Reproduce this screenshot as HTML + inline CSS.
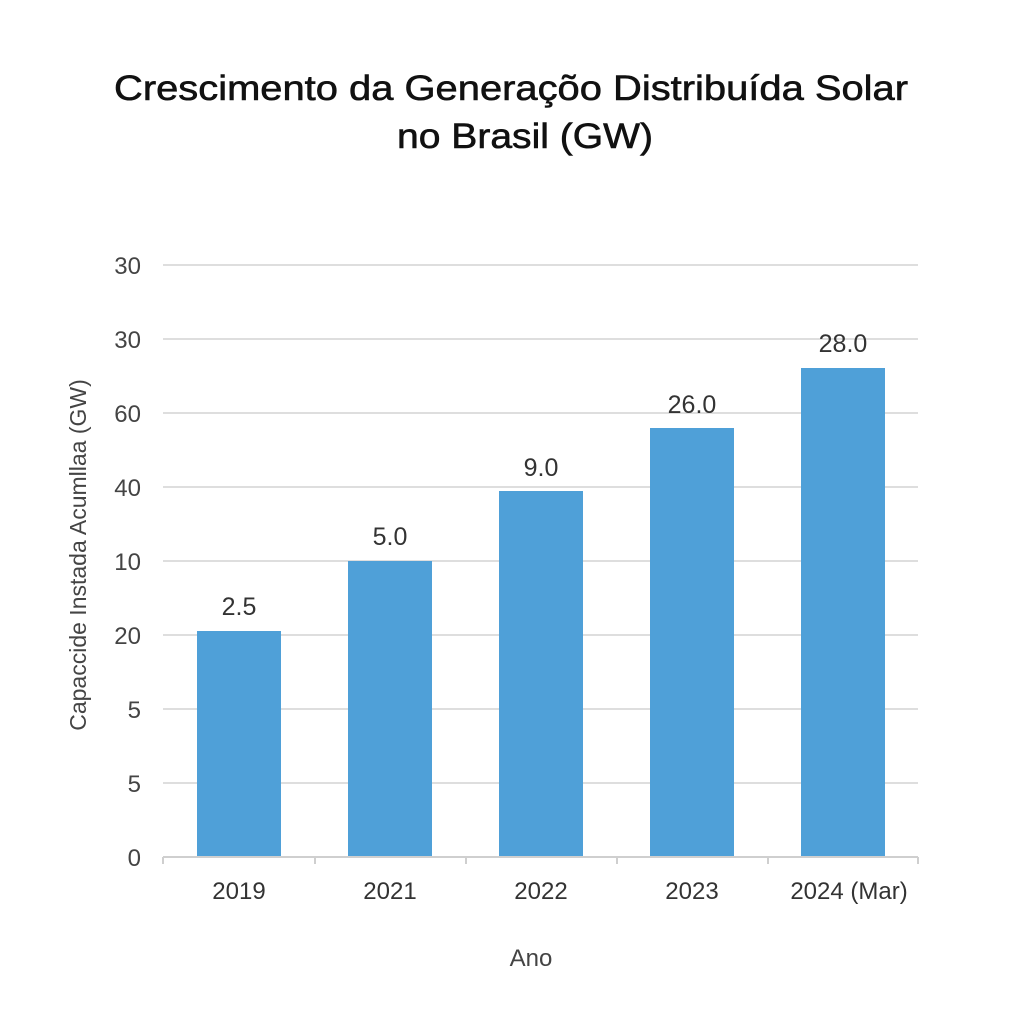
<!DOCTYPE html>
<html><head><meta charset="utf-8"><style>
html,body{margin:0;padding:0;background:#fff;}
svg{display:block;font-family:"Liberation Sans",sans-serif;}
</style></head><body>
<svg width="1024" height="1024" viewBox="0 0 1024 1024">
<rect width="1024" height="1024" fill="#fff"/>
<text x="511" y="100" text-anchor="middle" font-size="35" fill="#111" stroke="#111" stroke-width="0.6" textLength="794" lengthAdjust="spacingAndGlyphs">Crescimento da Generaçõo Distribuída Solar</text>
<text x="525" y="148" text-anchor="middle" font-size="35" fill="#111" stroke="#111" stroke-width="0.6" textLength="256" lengthAdjust="spacingAndGlyphs">no Brasil (GW)</text>
<g stroke="#dedede" stroke-width="2">
<line x1="163" y1="265" x2="918" y2="265"/>
<line x1="163" y1="339" x2="918" y2="339"/>
<line x1="163" y1="413" x2="918" y2="413"/>
<line x1="163" y1="487" x2="918" y2="487"/>
<line x1="163" y1="561" x2="918" y2="561"/>
<line x1="163" y1="635" x2="918" y2="635"/>
<line x1="163" y1="709" x2="918" y2="709"/>
<line x1="163" y1="783" x2="918" y2="783"/>
</g>
<g fill="#4fa0d8">
<rect x="197" y="631" width="84" height="225"/>
<rect x="348" y="561" width="84" height="295"/>
<rect x="499" y="491" width="84" height="365"/>
<rect x="650" y="428" width="84" height="428"/>
<rect x="801" y="368" width="84" height="488"/>
</g>
<g stroke="#cfcfcf" stroke-width="2">
<line x1="163" y1="857" x2="918" y2="857"/>
<line x1="163" y1="857" x2="163" y2="864"/>
<line x1="315" y1="857" x2="315" y2="864"/>
<line x1="466" y1="857" x2="466" y2="864"/>
<line x1="617" y1="857" x2="617" y2="864"/>
<line x1="768" y1="857" x2="768" y2="864"/>
<line x1="918" y1="857" x2="918" y2="864"/>
</g>
<g font-size="24" fill="#444" text-anchor="end">
<text x="141" y="274">30</text>
<text x="141" y="348">30</text>
<text x="141" y="422">60</text>
<text x="141" y="496">40</text>
<text x="141" y="570">10</text>
<text x="141" y="644">20</text>
<text x="141" y="718">5</text>
<text x="141" y="792">5</text>
<text x="141" y="866">0</text>
</g>
<g font-size="25" fill="#333" text-anchor="middle">
<text x="239" y="615">2.5</text>
<text x="390" y="545">5.0</text>
<text x="541" y="476">9.0</text>
<text x="692" y="413">26.0</text>
<text x="843" y="352">28.0</text>
</g>
<g font-size="24" fill="#333" text-anchor="middle">
<text x="239" y="899">2019</text>
<text x="390" y="899">2021</text>
<text x="541" y="899">2022</text>
<text x="692" y="899">2023</text>
<text x="849" y="899">2024 (Mar)</text>
</g>
<text x="531" y="966" text-anchor="middle" font-size="24" fill="#444">Ano</text>
<text transform="translate(86,555) rotate(-90)" text-anchor="middle" font-size="23" fill="#444">Capaccide Instada Acumllaa (GW)</text>
</svg>
</body></html>
